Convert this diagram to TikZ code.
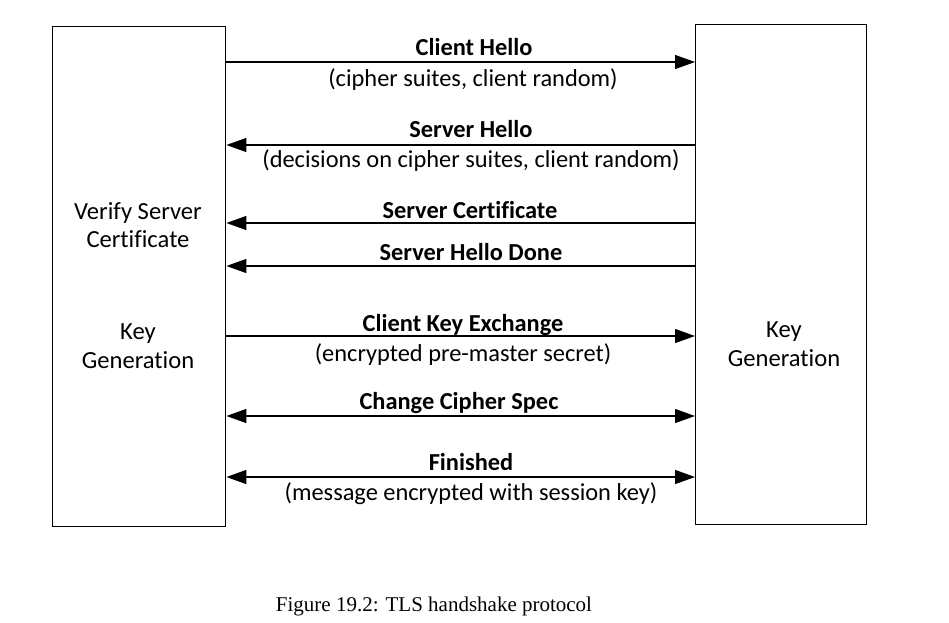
\documentclass[tikz,border=0pt]{standalone}
\usepackage{fontspec}
\setmainfont{Carlito}[Ligatures=CommonOff]
\newfontfamily\capfont{Liberation Serif}
\usetikzlibrary{arrows.meta}
\begin{document}
\begin{tikzpicture}[x=1pt,y=-1pt,
  party/.style={draw,line width=1.4pt,inner sep=0pt,anchor=north west},
  msg/.style={line width=1.3pt,-{Triangle[length=20pt,width=14pt]}},
  bmsg/.style={line width=1.3pt,{Triangle[length=20pt,width=14pt]}-{Triangle[length=20pt,width=14pt]}},
  title/.style={font=\fontsize{24.4}{29}\selectfont\bfseries,inner sep=0pt,anchor=base},
  sub/.style={font=\fontsize{24.4}{29}\selectfont,inner sep=0pt,anchor=base},
  lbl/.style={font=\fontsize{24.6}{28.5}\selectfont,align=center,inner sep=0pt}]
\useasboundingbox (0,0) rectangle (949,622);
\fill[white] (0,0) rectangle (949,622);
% boxes
\node[party,minimum width=173pt,minimum height=500pt] (client) at (52,26) {};
\node[party,minimum width=171pt,minimum height=500pt] (server) at (695,24) {};
\node[lbl] (cv) at (138,225) {Verify Server\\Certificate};
\node[lbl] (ck) at (138,346) {Key\\Generation};
\node[lbl] (sk) at (784,344) {Key\\Generation};
% message endpoints
\coordinate (c1) at (client.east |- 0,62);
\coordinate (s1) at (server.west |- 0,62);
\coordinate (c2) at (client.east |- 0,145);
\coordinate (s2) at (server.west |- 0,145);
\coordinate (c3) at (client.east |- 0,223);
\coordinate (s3) at (server.west |- 0,223);
\coordinate (c4) at (client.east |- 0,266);
\coordinate (s4) at (server.west |- 0,266);
\coordinate (c5) at (client.east |- 0,336);
\coordinate (s5) at (server.west |- 0,336);
\coordinate (c6) at (client.east |- 0,416);
\coordinate (s6) at (server.west |- 0,416);
\coordinate (c7) at (client.east |- 0,477);
\coordinate (s7) at (server.west |- 0,477);
\draw[msg] (c1) -- (s1);
\draw[msg] (s2) -- (c2);
\draw[msg] (s3) -- (c3);
\draw[msg] (s4) -- (c4);
\draw[msg] (c5) -- (s5);
\draw[bmsg] (c6) -- (s6);
\draw[bmsg] (c7) -- (s7);
% labels
\node[title] (t1) at (474,55.5) {Client Hello};
\node[sub] (u1) at (473,86) {(cipher suites, client random)};
\node[title] (t2) at (471,137) {Server Hello};
\node[sub] (u2) at (471,167) {(decisions on cipher suites, client random)};
\node[title] (t3) at (470,218) {Server Certificate};
\node[title] (t4) at (471,260) {Server Hello Done};
\node[title] (t5) at (463,331) {Client Key Exchange};
\node[sub] (u5) at (463,361) {(encrypted pre-master secret)};
\node[title] (t6) at (459,409) {Change Cipher Spec};
\node[title] (t7) at (471,470) {Finished};
\node[sub] (u7) at (471,500) {(message encrypted with session key)};
% caption
\node[font=\capfont\fontsize{21}{24}\selectfont,inner sep=0pt,anchor=base] (cap) at (434,611) {Figure 19.2: TLS handshake protocol};
\end{tikzpicture}
\end{document}
